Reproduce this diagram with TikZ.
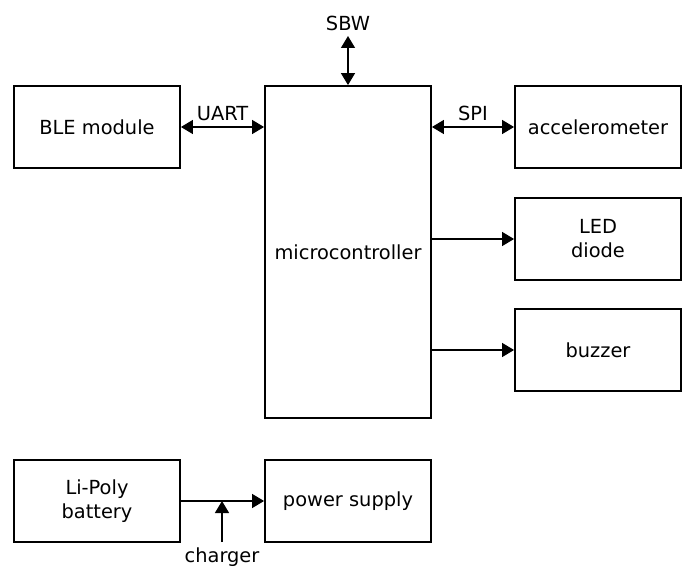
\documentclass[tikz,border=0pt]{standalone}
\usepackage{fontspec}
\setmainfont{DejaVu Sans}
\usetikzlibrary{arrows.meta}
\begin{document}
\begin{tikzpicture}[x=1pt,y=-1pt,
  every node/.style={font=\fontsize{19.4}{24}\selectfont},
  blk/.style={draw,line width=1.8pt,minimum width=166pt,minimum height=82pt,align=center,inner sep=0pt},
  conn/.style={line width=1.3pt,arrows={-Triangle[length=12pt,width=14pt]}},
  bconn/.style={line width=1.3pt,arrows={Triangle[length=12pt,width=14pt]-Triangle[length=12pt,width=14pt]}}]
\useasboundingbox (0,0) rectangle (691,567);
\node[blk] (ble) at (97,127) {BLE module};
\node[blk,minimum height=332pt] (mcu) at (348,252) {microcontroller};
\node[blk] (acc) at (598,127) {accelerometer};
\node[blk] (led) at (598,239) {LED\\diode};
\node[blk] (buz) at (598,350) {buzzer};
\node[blk] (bat) at (97,501) {Li-Poly\\battery};
\node[blk] (pow) at (348,501) {power supply};
\coordinate (sbw) at (348,36);
\coordinate (chg) at (222,542);
\draw[bconn] (ble.east) -- node[above=2pt] (uart) {UART} (ble.east -| mcu.west);
\draw[bconn] (acc.west -| mcu.east) -- node[above=2pt] (spi) {SPI} (acc.west);
\draw[bconn] (sbw) -- (mcu.north);
\node[anchor=south,inner sep=0pt] (sbwl) at (348,30.5) {SBW};
\draw[conn] (led.west -| mcu.east) -- (led.west);
\draw[conn] (buz.west -| mcu.east) -- (buz.west);
\draw[conn] (bat.east) -- (pow.west);
\draw[conn] (chg) -- (chg |- bat.east);
\node[anchor=north,inner sep=0pt] (chgl) at (222,548) {charger};
\end{tikzpicture}
\end{document}
